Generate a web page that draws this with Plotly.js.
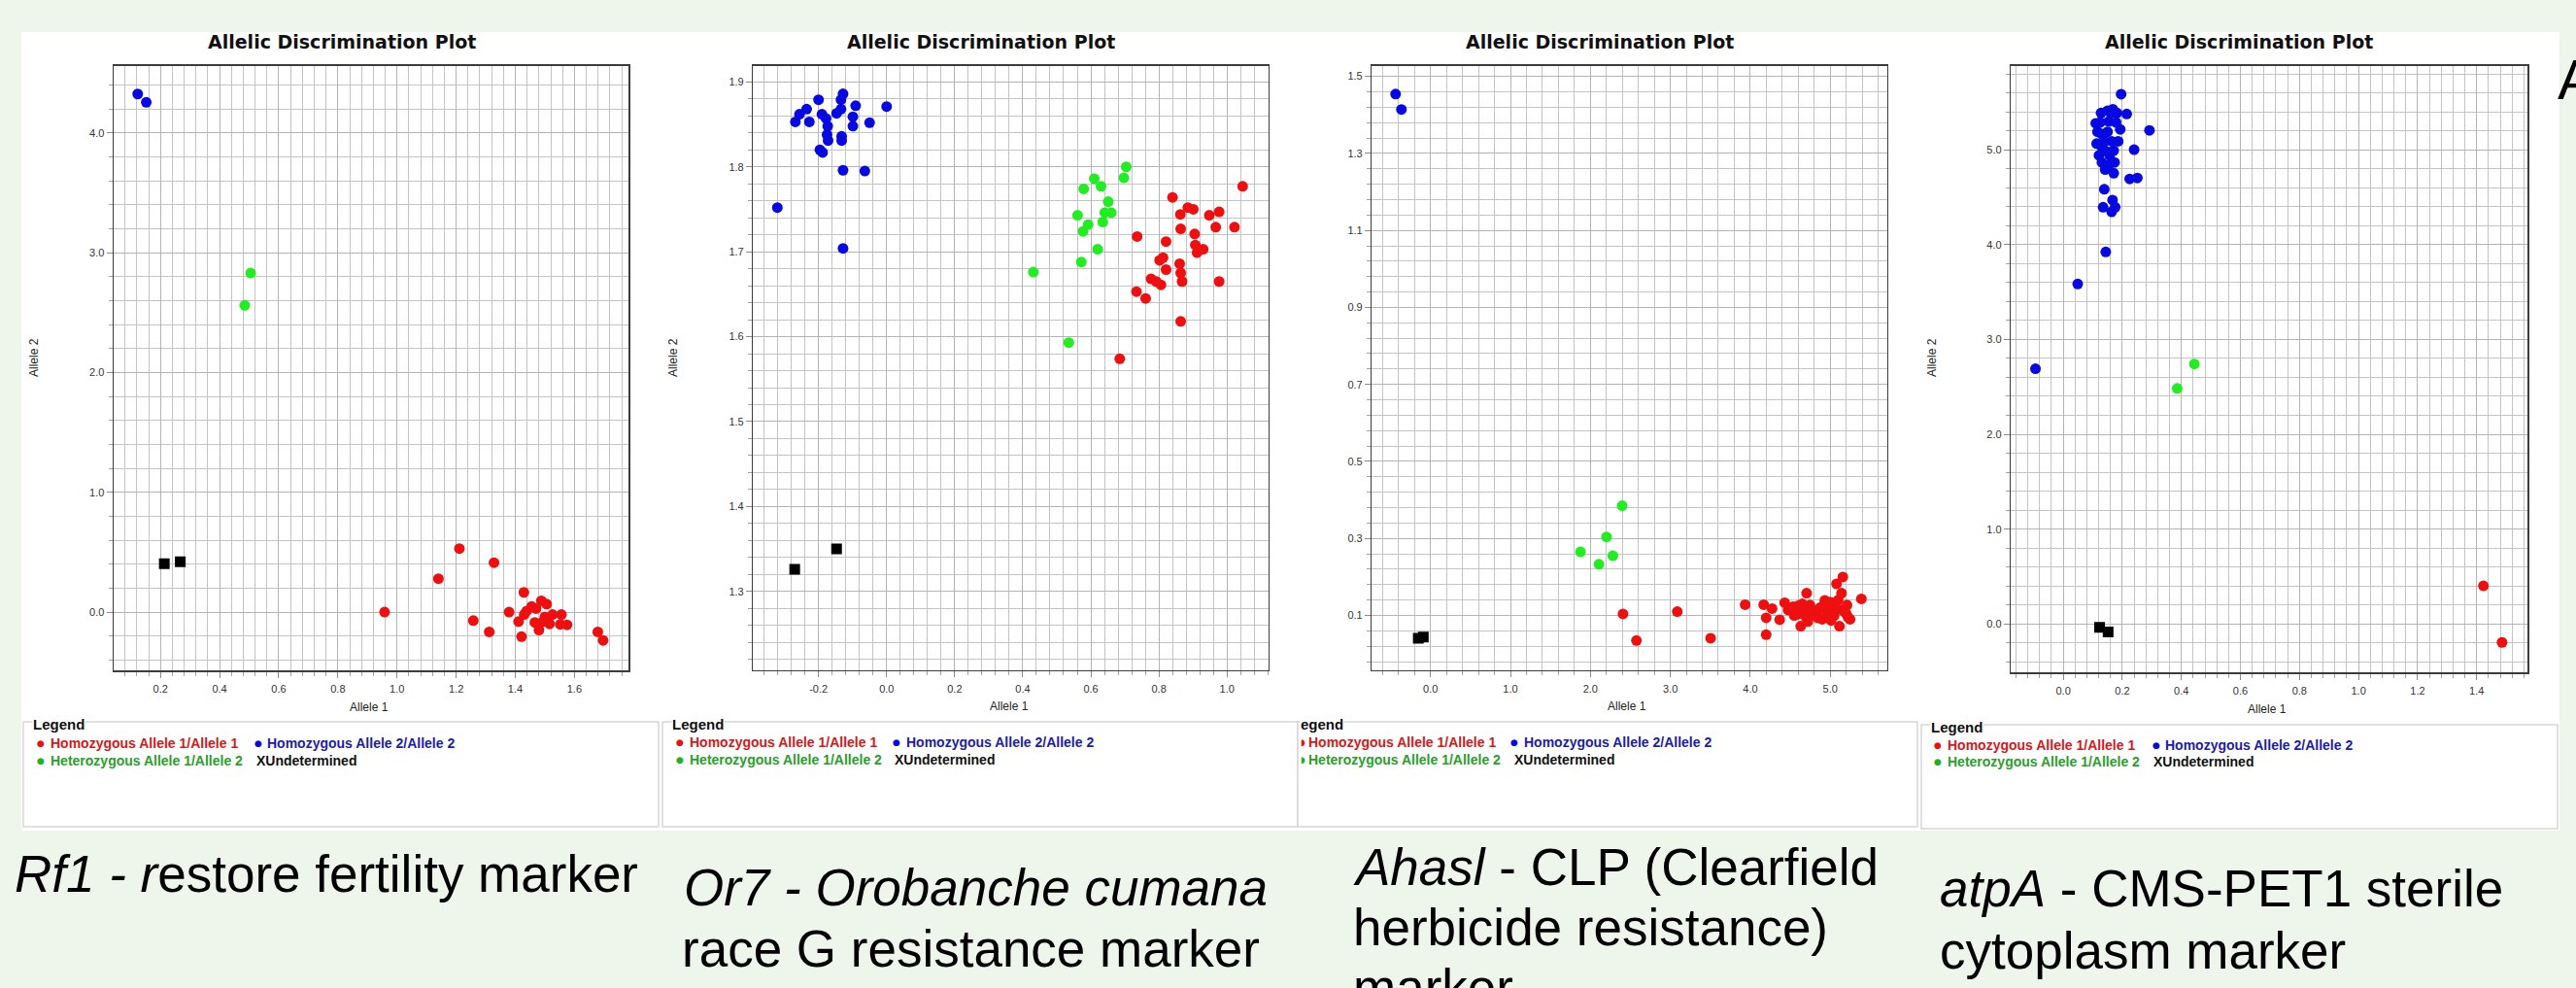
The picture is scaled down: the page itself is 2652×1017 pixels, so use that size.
<!DOCTYPE html>
<html><head><meta charset="utf-8">
<script src="https://cdn.plot.ly/plotly-3.0.1.min.js"></script>
<style>html,body{margin:0;padding:0;background:#eef5eb;}#chart{width:2652px;height:1017px;}</style>
</head><body><div id="chart"></div>
<script>
// ---------- DATA ----------
// Panel 1: Rf1
const rf1_hom1_x = [0.958,1.140,1.211,1.328,1.258,1.312,1.429,1.379,1.411,1.421,1.438,1.430,1.455,1.470,1.488,1.506,1.466,1.480,1.494,1.500,1.516,1.526,1.556,1.552,1.575,1.679,1.697];
const rf1_hom1_y = [0.000,0.279,0.530,0.413,-0.071,-0.165,0.165,0.000,-0.079,-0.204,0.008,-0.020,0.047,0.030,0.094,0.067,-0.086,-0.149,-0.079,-0.040,-0.098,-0.020,-0.020,-0.102,-0.106,-0.165,-0.236];
const rf1_hom2_x = [0.123,0.152];
const rf1_hom2_y = [4.324,4.255];
const rf1_het_x = [0.505,0.485];
const rf1_het_y = [2.83,2.56];
const rf1_und_x = [0.213,0.267];
const rf1_und_y = [0.405,0.420];
const rf1_xticks = [0.2,0.4,0.6,0.8,1.0,1.2,1.4,1.6];
const rf1_xlabels = ['0.2','0.4','0.6','0.8','1.0','1.2','1.4','1.6'];
const rf1_yticks = [0,1,2,3,4];
const rf1_ylabels = ['0.0','1.0','2.0','3.0','4.0'];

// Panel 2: Or7
const or7_hom2_x = [-0.321,-0.268,-0.256,-0.235,-0.227,-0.200,-0.190,-0.178,-0.173,-0.175,-0.172,-0.196,-0.188,-0.147,-0.134,-0.128,-0.134,-0.132,-0.132,-0.099,-0.099,-0.091,-0.050,0.000,-0.128,-0.064,-0.128];
const or7_hom2_y = [1.752,1.853,1.862,1.868,1.853,1.879,1.862,1.857,1.848,1.838,1.831,1.820,1.817,1.863,1.868,1.886,1.879,1.836,1.831,1.859,1.848,1.872,1.852,1.871,1.796,1.795,1.704];
const or7_het_x = [0.431,0.535,0.572,0.561,0.579,0.577,0.592,0.610,0.630,0.620,0.635,0.641,0.651,0.660,0.697,0.704];
const or7_het_y = [1.676,1.593,1.688,1.743,1.774,1.724,1.732,1.786,1.777,1.703,1.735,1.746,1.759,1.746,1.787,1.800];
const or7_hom1_x = [0.685,0.734,0.761,0.736,0.777,0.792,0.806,0.802,0.812,0.821,0.821,0.840,0.863,0.864,0.861,0.864,0.868,0.864,0.885,0.901,0.905,0.907,0.912,0.930,0.948,0.967,0.977,0.977,1.022,1.046];
const or7_hom1_y = [1.574,1.653,1.645,1.718,1.668,1.665,1.661,1.690,1.693,1.679,1.712,1.764,1.744,1.727,1.686,1.675,1.665,1.618,1.752,1.750,1.721,1.708,1.699,1.703,1.743,1.729,1.747,1.665,1.729,1.777];
const or7_und_x = [-0.270,-0.147];
const or7_und_y = [1.326,1.350];
const or7_xticks = [-0.2,0,0.2,0.4,0.6,0.8,1.0];
const or7_xlabels = ['-0.2','0.0','0.2','0.4','0.6','0.8','1.0'];
const or7_yticks = [1.3,1.4,1.5,1.6,1.7,1.8,1.9];
const or7_ylabels = ['1.3','1.4','1.5','1.6','1.7','1.8','1.9'];

// Panel 3: Ahasl
const ahas_hom1_x = [2.408,2.576,3.087,3.504,3.936,4.168,4.199,4.199,4.273,4.368,4.431,4.473,4.536,4.589,4.631,4.668,4.705,4.721,4.747,4.800,4.842,4.879,4.932,4.958,5.011,5.053,5.079,5.116,5.142,5.158,5.179,5.211,5.221,5.248,5.390,4.550,4.650,4.750,4.850,4.950,5.050,5.100,4.900,4.700,5.000,4.600,5.150,5.200];
const ahas_hom1_y = [0.104,0.035,0.110,0.041,0.128,0.128,0.094,0.050,0.118,0.089,0.133,0.114,0.123,0.103,0.072,0.114,0.158,0.084,0.127,0.109,0.094,0.121,0.139,0.109,0.087,0.121,0.182,0.072,0.158,0.200,0.109,0.127,0.096,0.090,0.143,0.100,0.130,0.100,0.115,0.125,0.100,0.140,0.090,0.095,0.135,0.125,0.115,0.105];
const ahas_hom2_x = [-0.437,-0.364];
const ahas_hom2_y = [1.454,1.414];
const ahas_het_x = [1.876,2.107,2.202,2.281,2.397];
const ahas_het_y = [0.265,0.233,0.304,0.255,0.385];
const ahas_und_x = [-0.153,-0.090];
const ahas_und_y = [0.041,0.044];
const ahas_xticks = [0,1,2,3,4,5];
const ahas_xlabels = ['0.0','1.0','2.0','3.0','4.0','5.0'];
const ahas_yticks = [0.1,0.3,0.5,0.7,0.9,1.1,1.3,1.5];
const ahas_ylabels = ['0.1','0.3','0.5','0.7','0.9','1.1','1.3','1.5'];

// Panel 4: atpA
const atp_hom2_x = [0.196,0.292,0.240,0.225,0.251,0.139,0.135,0.167,0.164,0.176,0.144,0.049,-0.094,0.215,0.110,0.128,0.150,0.168,0.113,0.121,0.142,0.171,0.174,0.131,0.186,0.193,0.150,0.131,0.164,0.142,0.157,0.125,0.154,0.179,0.116,0.139,0.171,0.128,0.154,0.161,0.182];
const atp_hom2_y = [5.586,5.204,5.000,4.692,4.702,4.583,4.394,4.469,4.345,4.394,3.923,3.585,2.691,5.377,5.278,5.387,5.412,5.427,5.065,4.940,4.791,4.752,4.866,4.866,5.089,5.214,5.189,5.164,5.089,4.990,4.940,5.288,5.298,5.288,5.189,5.089,4.990,5.040,4.841,5.387,5.387];
const atp_het_x = [0.444,0.386];
const atp_het_y = [2.741,2.483];
const atp_hom1_x = [1.423,1.486];
const atp_hom1_y = [0.402,-0.194];
const atp_und_x = [0.123,0.152];
const atp_und_y = [-0.035,-0.084];
const atp_xticks = [0,0.2,0.4,0.6,0.8,1.0,1.2,1.4];
const atp_xlabels = ['0.0','0.2','0.4','0.6','0.8','1.0','1.2','1.4'];
const atp_yticks = [0,1,2,3,4,5];
const atp_ylabels = ['0.0','1.0','2.0','3.0','4.0','5.0'];

// Text
const plotTitle = 'Allelic Discrimination Plot';
const xTitle = 'Allele 1';
const yTitle = 'Allele 2';
const legendHeader = 'Legend';
const legendItems = ['Homozygous Allele 1/Allele 1','Homozygous Allele 2/Allele 2','Heterozygous Allele 1/Allele 2','XUndetermined'];
const captions = [
  ['<i>Rf1 - r</i>estore fertility marker'],
  ['<i>Or7 - Orobanche cumana</i>','race G resistance marker'],
  ['<i>Ahasl</i> - CLP (Clearfield','herbicide resistance)','marker'],
  ['<i>atpA</i> - CMS-PET1 sterile','cytoplasm marker']
];

// ---------- BUILD ----------
const W = 2652, H = 1017;
const px = x => x / W;
const py = y => 1 - y / H;
const C_RED = '#ee1010', C_BLUE = '#0808e0', C_GREEN = '#22ec22', C_BLACK = '#000000';
const FONT = 'Liberation Sans, Arial, sans-serif';

const panels = [
  {hom1:[rf1_hom1_x,rf1_hom1_y], hom2:[rf1_hom2_x,rf1_hom2_y], het:[rf1_het_x,rf1_het_y], und:[rf1_und_x,rf1_und_y],
   xr:[0.042,1.784], yr:[-0.488,4.558], xt:[rf1_xticks,rf1_xlabels], yt:[rf1_yticks,rf1_ylabels], xm:[0,0.04], ym:[0,0.2],
   dom:[117.1,647.4,67.9,690.3]},
  {hom1:[or7_hom1_x,or7_hom1_y], hom2:[or7_hom2_x,or7_hom2_y], het:[or7_het_x,or7_het_y], und:[or7_und_x,or7_und_y],
   xr:[-0.392,1.1216], yr:[1.2073,1.9188], xt:[or7_xticks,or7_xlabels], yt:[or7_yticks,or7_ylabels], xm:[0,0.04], ym:[0,0.02],
   dom:[775.4,1305.8,67.9,689.8]},
  {hom1:[ahas_hom1_x,ahas_hom1_y], hom2:[ahas_hom2_x,ahas_hom2_y], het:[ahas_het_x,ahas_het_y], und:[ahas_und_x,ahas_und_y],
   xr:[-0.733,5.711], yr:[-0.042,1.527], xt:[ahas_xticks,ahas_xlabels], yt:[ahas_yticks,ahas_ylabels], xm:[0,0.2], ym:[0.1,0.04],
   dom:[1412.4,1942.7,67.9,689.8]},
  {hom1:[atp_hom1_x,atp_hom1_y], hom2:[atp_hom2_x,atp_hom2_y], het:[atp_het_x,atp_het_y], und:[atp_und_x,atp_und_y],
   xr:[-0.177,1.572], yr:[-0.511,5.883], xt:[atp_xticks,atp_xlabels], yt:[atp_yticks,atp_ylabels], xm:[0,0.04], ym:[0,0.2],
   dom:[2070.3,2602,67.9,692.2]}
];

const traces = [];
const layout = {
  width: W, height: H, margin:{l:0,r:0,t:0,b:0},
  paper_bgcolor:'#eef5eb', plot_bgcolor:'#ffffff', showlegend:false,
  font:{family:FONT, color:'#222'},
  shapes:[], annotations:[]
};

function axis(range, ticks, minor, domain, anchor){
  return {
    domain: domain, range: range, anchor: anchor, fixedrange:true,
    tickmode:'array', tickvals: ticks[0], ticktext: ticks[1],
    showgrid:true, gridcolor:'#b4b4b4', gridwidth:1, zeroline:false,
    showline:true, linecolor:'#3c3c3c', linewidth:1.5, mirror:true,
    ticks:'outside', ticklen:6, tickcolor:'#8a8a8a', tickwidth:1,
    tickfont:{family:FONT, size:11, color:'#333'},
    minor:{tickmode:'linear', tick0:minor[0], dtick:minor[1], showgrid:true, gridcolor:'#c4c4c4', gridwidth:1,
           ticks:'outside', ticklen:4, tickcolor:'#a0a0a0'}
  };
}

panels.forEach((p,i)=>{
  const k = i===0 ? '' : String(i+1);
  const xa = 'x'+k, ya = 'y'+k;
  const series = [[p.hom1,C_RED,'circle',11],[p.het,C_GREEN,'circle',11],[p.hom2,C_BLUE,'circle',11],[p.und,C_BLACK,'square',11]];
  series.forEach(s=>{
    traces.push({type:'scatter', mode:'markers', x:s[0][0], y:s[0][1], xaxis:xa, yaxis:ya,
      marker:{color:s[1], size:s[3], symbol:s[2], line:{width:0}}, hoverinfo:'skip'});
  });
  const d = p.dom;
  layout['xaxis'+k] = axis(p.xr, p.xt, p.xm, [px(d[0]), px(d[1])], ya);
  layout['yaxis'+k] = axis(p.yr, p.yt, p.ym, [py(d[3]), py(d[2])], xa);
  layout['xaxis'+k].ticklabelstandoff = 2;
});

function ann(x, y, text, o){
  o = o || {};
  return Object.assign({xref:'paper', yref:'paper', x:px(x), y:py(y), text:text, showarrow:false,
    xanchor:'center', yanchor:'middle', font:{family:FONT, size:12, color:'#222'}}, o);
}
const A = layout.annotations, S = layout.shapes;

// White panel background
S.push({type:'rect', xref:'paper', yref:'paper', x0:px(22), x1:px(2635), y0:py(855), y1:py(33), fillcolor:'#ffffff', line:{width:0}, layer:'below'});

// Titles
[351.6, 1009.6, 1646.6, 2305].forEach(cx=>{
  A.push(ann(cx, 43, plotTitle, {font:{family:'DejaVu Sans, Verdana, sans-serif', size:19, color:'#111', weight:'bold'}}));
});
// x axis titles
[[380,728],[1039,727],[1675,727],[2334,730]].forEach(q=>A.push(ann(q[0], q[1], xTitle, {font:{family:FONT,size:12,color:'#222'}})));
// y axis titles (panel 3 is cropped, no label)
[[35,368],[693,368],[1989,368]].forEach(q=>A.push(ann(q[0], q[1], yTitle, {textangle:-90, font:{family:FONT,size:12,color:'#222'}})));

// Legend boxes
const legBoxes = [
  {x0:24, x1:678, y0:743, y1:851, head:33, headTxt:legendHeader, d1:42, t1:50, d2:266, t2:273, u:262, r1:765, r2:783, cut:false},
  {x0:682, x1:1336, y0:743, y1:851, head:691, headTxt:legendHeader, d1:700, t1:708, d2:923, t2:931, u:919, r1:764, r2:782, cut:false},
  {x0:1336, x1:1974, y0:743, y1:851, head:1338, headTxt:legendHeader.slice(1), d1:1337, t1:1344.6, d2:1559, t2:1567, u:1557, r1:764, r2:782, cut:true},
  {x0:1978, x1:2633, y0:746, y1:853, head:1986.5, headTxt:legendHeader, d1:1995, t1:2003, d2:2219.5, t2:2227, u:2215, r1:767, r2:784, cut:false}
];
const legCols = ['#d21a1a','#1c1caa','#2a9e2a','#111111'];
legBoxes.forEach(b=>{
  S.push({type:'rect', xref:'paper', yref:'paper', x0:px(b.x0), x1:px(b.x1), y0:py(b.y1), y1:py(b.y0), fillcolor:'#ffffff', line:{color:'#d6d6d6', width:1.5}, layer:'below'});
  A.push(ann(b.head, b.y0+2, b.headTxt, {xanchor:'left', bgcolor:'#ffffff', borderpad:0, font:{family:FONT, size:15, color:'#111', weight:'bold'}}));
  const bold = {family:FONT, size:14, weight:'bold'};
  if(!b.cut){
    A.push(ann(b.d1, b.r1, '●', {font:{family:'DejaVu Sans', size:9, color:C_RED}}));
    A.push(ann(b.d1, b.r2, '●', {font:{family:'DejaVu Sans', size:9, color:'#22b022'}}));
  } else {
    A.push(ann(b.x0+0.5, b.r1, '◗', {xanchor:'left', font:{family:'DejaVu Sans', size:9, color:C_RED}}));
    A.push(ann(b.x0+0.5, b.r2, '◗', {xanchor:'left', font:{family:'DejaVu Sans', size:9, color:'#22b022'}}));
  }
  A.push(ann(b.d2, b.r1, '●', {font:{family:'DejaVu Sans', size:9, color:C_BLUE}}));
  A.push(ann(b.t1, b.r1, legendItems[0], {xanchor:'left', font:Object.assign({color:legCols[0]}, bold)}));
  A.push(ann(b.t2, b.r1, legendItems[1], {xanchor:'left', font:Object.assign({color:legCols[1]}, bold)}));
  A.push(ann(b.t1, b.r2, legendItems[2], {xanchor:'left', font:Object.assign({color:legCols[2]}, bold)}));
  A.push(ann(b.u, b.r2, legendItems[3], {xanchor:'left', font:Object.assign({color:legCols[3]}, bold)}));
});

// Captions (positions by baseline; centre = baseline - 18.4)
const capPos = [
  [[13,918]],
  [[702,932],[700,995]],
  [[1391,911],[1391,973],[1391,1035]],
  [[1995,933],[1995,997]]
];
captions.forEach((lines,i)=>{
  lines.forEach((t,j)=>{
    const q = capPos[i][j];
    A.push(ann(q[0], q[1]-18.4, t, {xanchor:'left', font:{family:FONT, size:53, color:'#000'}}));
  });
});

// Panel letter (cut by the right edge in the reference)
A.push(ann(2631, 81, 'A', {xanchor:'left', font:{family:FONT, size:58, color:'#000'}}));

Plotly.newPlot('chart', traces, layout, {staticPlot:true, displayModeBar:false});
</script></body></html>
